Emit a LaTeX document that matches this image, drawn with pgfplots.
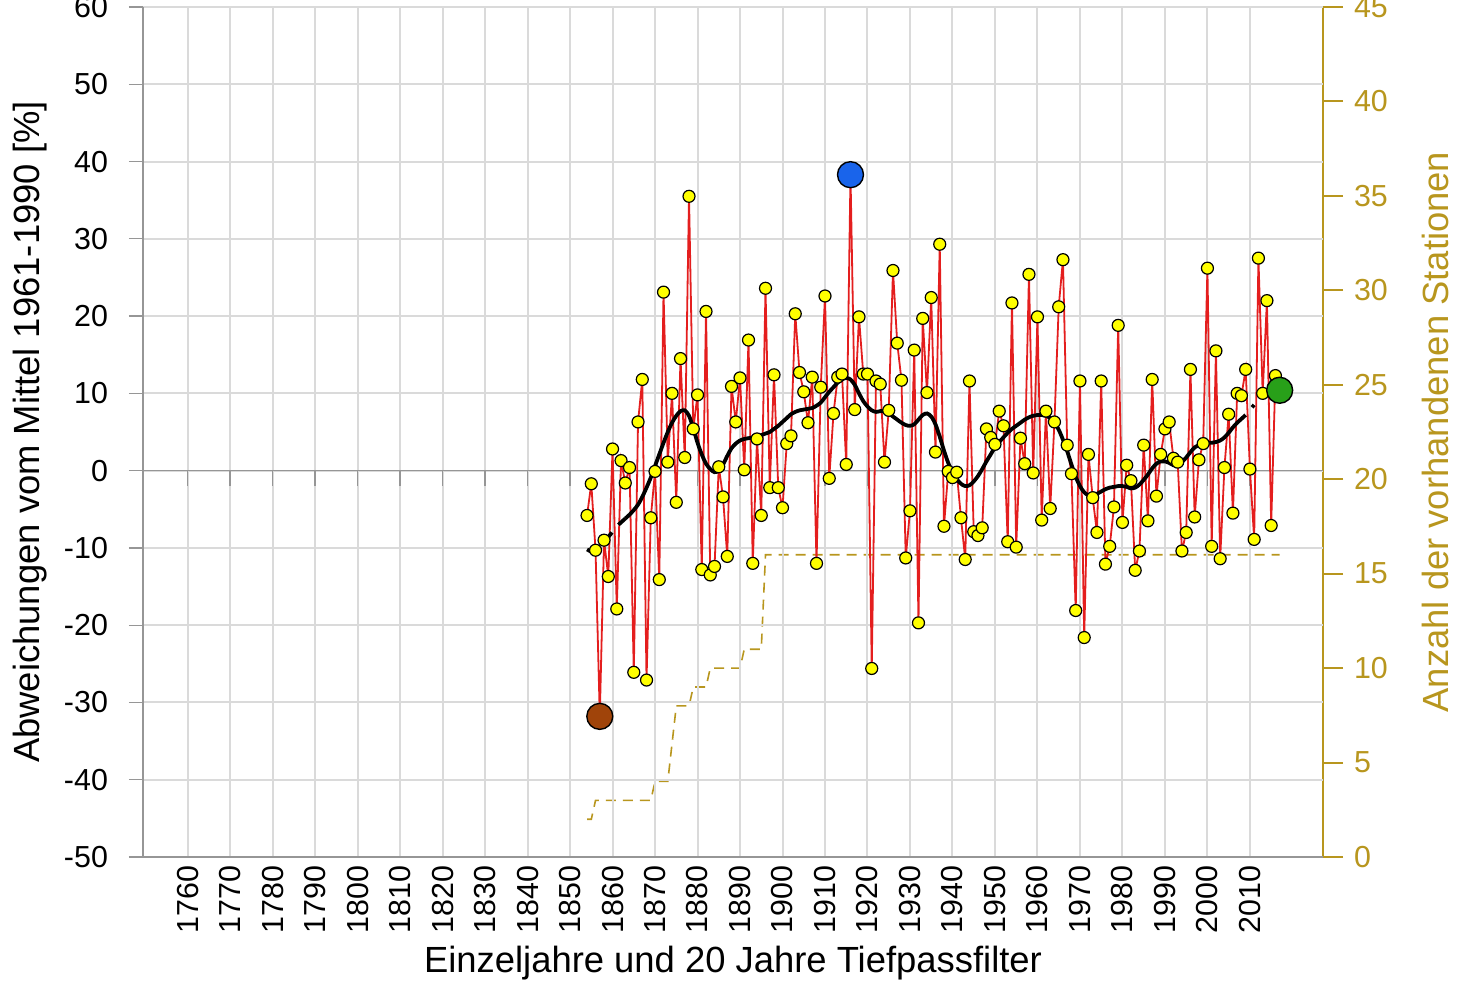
\documentclass[border=0pt]{standalone}
\usepackage{pgfplots}
\usepackage{pgfplotstable}
\pgfplotsset{compat=1.18}
\usepackage{fontspec}
\setmainfont{Liberation Sans}
\definecolor{gold}{RGB}{184,150,30}
\definecolor{gridgray}{RGB}{218,218,218}
\definecolor{axgray}{RGB}{150,150,150}
\definecolor{dred}{RGB}{228,30,30}
\definecolor{dyel}{RGB}{255,255,0}
\definecolor{dbrown}{RGB}{160,68,10}
\definecolor{dblue}{RGB}{25,100,235}
\definecolor{dgreen}{RGB}{40,160,25}

\pgfplotstableread{
year val
1854 -5.8
1855 -1.7
1856 -10.3
1857 -31.8
1858 -9.0
1859 -13.7
1860 2.8
1861 -17.9
1862 1.3
1863 -1.6
1864 0.4
1865 -26.1
1866 6.3
1867 11.8
1868 -27.1
1869 -6.1
1870 -0.1
1871 -14.1
1872 23.1
1873 1.1
1874 10.0
1875 -4.1
1876 14.5
1877 1.7
1878 35.5
1879 5.4
1880 9.8
1881 -12.8
1882 20.6
1883 -13.5
1884 -12.4
1885 0.5
1886 -3.4
1887 -11.1
1888 10.9
1889 6.3
1890 12.0
1891 0.1
1892 16.9
1893 -12.0
1894 4.1
1895 -5.8
1896 23.6
1897 -2.2
1898 12.4
1899 -2.2
1900 -4.8
1901 3.5
1902 4.5
1903 20.3
1904 12.7
1905 10.2
1906 6.2
1907 12.1
1908 -12.0
1909 10.8
1910 22.6
1911 -1.0
1912 7.4
1913 12.1
1914 12.5
1915 0.8
1916 38.3
1917 7.9
1918 19.9
1919 12.5
1920 12.5
1921 -25.6
1922 11.6
1923 11.2
1924 1.1
1925 7.8
1926 25.9
1927 16.5
1928 11.7
1929 -11.3
1930 -5.2
1931 15.6
1932 -19.7
1933 19.7
1934 10.1
1935 22.4
1936 2.4
1937 29.3
1938 -7.2
1939 -0.1
1940 -0.9
1941 -0.2
1942 -6.1
1943 -11.5
1944 11.6
1945 -7.9
1946 -8.4
1947 -7.4
1948 5.4
1949 4.3
1950 3.4
1951 7.7
1952 5.8
1953 -9.2
1954 21.7
1955 -9.9
1956 4.2
1957 0.9
1958 25.4
1959 -0.3
1960 19.9
1961 -6.4
1962 7.7
1963 -4.9
1964 6.3
1965 21.2
1966 27.3
1967 3.3
1968 -0.4
1969 -18.1
1970 11.6
1971 -21.6
1972 2.1
1973 -3.5
1974 -8.0
1975 11.6
1976 -12.1
1977 -9.8
1978 -4.7
1979 18.8
1980 -6.7
1981 0.7
1982 -1.3
1983 -12.9
1984 -10.4
1985 3.3
1986 -6.5
1987 11.8
1988 -3.3
1989 2.1
1990 5.4
1991 6.3
1992 1.6
1993 1.1
1994 -10.4
1995 -8.0
1996 13.1
1997 -6.0
1998 1.4
1999 3.5
2000 26.2
2001 -9.8
2002 15.5
2003 -11.4
2004 0.4
2005 7.3
2006 -5.5
2007 10.0
2008 9.7
2009 13.1
2010 0.2
2011 -8.9
2012 27.5
2013 10.0
2014 22.0
2015 -7.1
2016 12.3
2017 10.4
}\prec

\pgfplotstableread{
year val
1863 -6.2
1864 -5.7
1865 -5.1
1866 -4.4
1867 -3.4
1868 -2.2
1869 -0.9
1870 0.6
1871 2.1
1872 3.6
1873 5.0
1874 6.2
1875 7.1
1876 7.7
1877 7.8
1878 7.1
1879 5.5
1880 3.6
1881 2.1
1882 0.9
1883 0.2
1884 -0.2
1885 0.0
1886 0.8
1887 1.9
1888 2.9
1889 3.5
1890 3.9
1891 4.1
1892 4.2
1893 4.3
1894 4.4
1895 4.6
1896 4.8
1897 5.0
1898 5.4
1899 5.8
1900 6.3
1901 6.8
1902 7.3
1903 7.6
1904 7.8
1905 7.9
1906 8.0
1907 8.1
1908 8.4
1909 8.8
1910 9.5
1911 10.2
1912 10.8
1913 11.4
1914 11.8
1915 12.0
1916 11.8
1917 11.1
1918 10.0
1919 9.0
1920 8.3
1921 7.8
1922 7.6
1923 7.7
1924 7.7
1925 7.4
1926 7.0
1927 6.6
1928 6.2
1929 5.9
1930 5.8
1931 6.0
1932 6.6
1933 7.2
1934 7.4
1935 7.0
1936 6.0
1937 4.4
1938 2.6
1939 1.0
1940 -0.2
1941 -1.1
1942 -1.7
1943 -2.0
1944 -1.9
1945 -1.4
1946 -0.7
1947 0.2
1948 1.2
1949 2.1
1950 3.0
1951 3.7
1952 4.3
1953 4.9
1954 5.4
1955 5.8
1956 6.2
1957 6.6
1958 6.9
1959 7.1
1960 7.2
1961 7.2
1962 7.1
1963 6.8
1964 6.2
1965 5.3
1966 4.0
1967 2.5
1968 0.8
1969 -0.8
1970 -2.0
1971 -2.8
1972 -3.2
1973 -3.2
1974 -3.0
1975 -2.7
1976 -2.4
1977 -2.2
1978 -2.1
1979 -2.0
1980 -2.0
1981 -2.1
1982 -2.3
1983 -2.2
1984 -1.8
1985 -1.2
1986 -0.5
1987 0.3
1988 0.9
1989 1.2
1990 1.2
1991 1.0
1992 0.7
1993 0.7
1994 1.1
1995 1.7
1996 2.4
1997 3.0
1998 3.3
1999 3.5
2000 3.6
2001 3.6
2002 3.7
2003 3.9
2004 4.3
2005 4.9
2006 5.6
2007 6.2
2008 6.7
2009 7.2
}\smooth

\begin{document}
\begin{tikzpicture}
\pgfplotsset{
  base/.style={scale only axis, width=590pt, height=425pt,
    xmin=1749.5, xmax=2027.2,
    tick label style={font=\fontsize{15.2}{18}\selectfont},
    label style={font=\fontsize{18.2}{21}\selectfont},
    /pgf/number format/assume math mode=true,
    /pgf/number format/1000 sep={}},
}
% stations axis (right)
\begin{axis}[base, ymin=0, ymax=45,
  axis y line*=right, axis x line=none,
  ytick={0,5,...,45},
  y axis line style={gold, line width=1pt},
  ytick style={gold, line width=1pt},
  tick align=outside, major tick length=10pt,
  yticklabel style={text=gold, xshift=2pt},
  ylabel={Anzahl der vorhandenen Stationen},
  ylabel style={text=gold, at={(axis description cs:1.0949,0.5)}, anchor=center},
]
\addplot[gold, line width=0.8pt, dash pattern=on 5pt off 3.5pt] coordinates {
(1854,2)(1855,2)(1856,3)(1869,3)(1870,4)(1873,4)(1874,6)(1875,8)(1878,8)(1879,9)(1882,9)(1883,10)(1890,10)(1891,11)(1895,11)(1896,16)(2017,16)};
\end{axis}
% main axis
\begin{axis}[base, name=ax, ymin=-50, ymax=60,
  axis x line*=bottom, axis y line*=left,
  xtick={1760,1770,...,2010},
  ytick={-50,-40,...,60},
  grid=major, grid style={gridgray, line width=1pt},
  x axis line style={axgray, line width=0.6pt},
  y axis line style={axgray, line width=0.6pt},
  ytick style={axgray, line width=0.6pt},
  xtick style={draw=none},
  tick align=outside, major tick length=7pt,
  xticklabel shift=-6pt,
  xticklabel style={rotate=90, anchor=east},
  yticklabel style={xshift=-7pt},
  xlabel={Einzeljahre und 20 Jahre Tiefpassfilter},
  xlabel style={at={(axis description cs:0.5,-0.1247)}, anchor=center},
  ylabel={Abweichungen vom Mittel 1961-1990 [\%]},
  ylabel style={at={(axis description cs:-0.0958,0.5)}, anchor=center},
]
\addplot[axgray, line width=0.6pt] coordinates {(1749.5,0)(2027.2,0)};
\addplot[ycomb, axgray, line width=0.8pt, mark=none] coordinates {
(1760,-2)(1770,-2)(1780,-2)(1790,-2)(1800,-2)(1810,-2)(1820,-2)(1830,-2)(1840,-2)(1850,-2)(1860,-2)(1870,-2)(1880,-2)(1890,-2)(1900,-2)(1910,-2)(1920,-2)(1930,-2)(1940,-2)(1950,-2)(1960,-2)(1970,-2)(1980,-2)(1990,-2)(2000,-2)(2010,-2)};
\addplot[dred, line width=0.9pt, mark=none] table[x=year,y=val] {\prec};
\addplot[black, line width=1.9pt, mark=none, smooth] table[x=year,y=val] {\smooth};
\addplot[black, line width=1.9pt, mark=none, dash pattern=on 6pt off 5pt] coordinates {(1854,-10.2)(1855,-10.5)(1856,-10.4)(1857,-9.9)(1858,-9.3)(1859,-8.6)(1860,-7.9)(1861,-7.2)(1862,-6.7)(1863,-6.2)};
\addplot[black, line width=1.9pt, mark=none, dash pattern=on 0pt off 5pt on 4pt off 10pt] coordinates {(2009,7.2)(2010,7.9)(2011,8.5)};
\addplot[only marks, mark=*, mark size=3pt, mark options={fill=dyel, draw=black, line width=0.6pt}] table[x=year,y=val] {\prec};
\addplot[only marks, mark=*, mark size=6.5pt, mark options={fill=dbrown, draw=black, line width=0.7pt}] coordinates {(1857,-31.8)};
\addplot[only marks, mark=*, mark size=6.5pt, mark options={fill=dblue, draw=black, line width=0.7pt}] coordinates {(1916,38.3)};
\addplot[only marks, mark=*, mark size=6.5pt, mark options={fill=dgreen, draw=black, line width=0.7pt}] coordinates {(2017,10.4)};
\coordinate (LL) at (rel axis cs:0,0);
\coordinate (UR) at (rel axis cs:1,1);
\end{axis}
\pgfresetboundingbox
\path ([xshift=-71.5pt,yshift=-75pt]LL) rectangle ([xshift=74pt,yshift=3.5pt]UR);
\end{tikzpicture}
\end{document}
